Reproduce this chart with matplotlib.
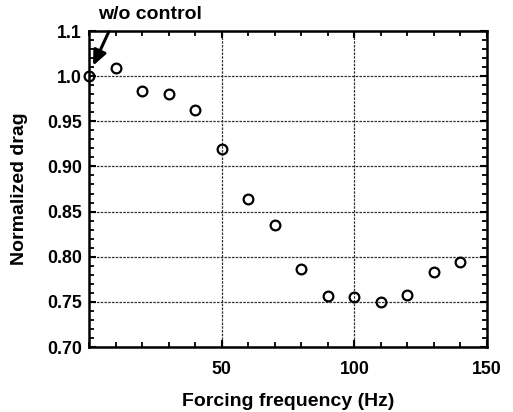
import matplotlib
matplotlib.use("Agg")
import matplotlib.pyplot as plt
from matplotlib.ticker import MultipleLocator

freq = [0, 10, 20, 30, 40, 50, 60, 70, 80, 90, 100, 110, 120, 130, 140]
drag = [1.000, 1.009, 0.984, 0.980, 0.963, 0.919, 0.864, 0.835, 0.786, 0.757, 0.755, 0.750, 0.758, 0.783, 0.794]

yticks = [0.70, 0.75, 0.80, 0.85, 0.90, 0.95, 1.00, 1.05]
ytick_labels = ["0.70", "0.75", "0.80", "0.85", "0.90", "0.95", "1.0", "1.1"]
xticks = [50, 100, 150]
xtick_labels = ["50", "100", "150"]

plt.rcParams['font.family'] = ['Liberation Sans', 'DejaVu Sans']
plt.rcParams['font.weight'] = 'bold'

fig = plt.figure(figsize=(5.13, 4.12), dpi=100)
ax = fig.add_axes([89/513, 1-347/412, (487-89)/513, (347-31)/412])

ax.plot(freq, drag, linestyle='none', marker='o', markersize=7,
        markerfacecolor='none', markeredgecolor='black', markeredgewidth=1.6, clip_on=False, zorder=3)

ax.set_xlim(0, 150)
ax.set_ylim(0.70, 1.05)
ax.set_xticks(xticks)
ax.set_xticklabels(xtick_labels)
ax.set_yticks(yticks)
ax.set_yticklabels(ytick_labels)
ax.xaxis.set_minor_locator(MultipleLocator(10))
ax.yaxis.set_minor_locator(MultipleLocator(0.01))

ax.tick_params(which='both', direction='in', top=True, right=True, labelsize=12.8, colors='black')
ax.tick_params(axis='x', which='major', pad=10)
ax.tick_params(axis='y', which='major', pad=5)
ax.tick_params(which='major', length=5, width=1.5)
ax.tick_params(which='minor', length=3.5, width=1.3)
for lab in ax.get_xticklabels() + ax.get_yticklabels():
    lab.set_fontweight('bold')

ax.grid(True, which='major', linestyle=(0, (2, 1)), color='#333333', linewidth=0.9)
for s in ax.spines.values():
    s.set_linewidth(1.8)

fig.text(288/513, 1-402/412, "Forcing frequency (Hz)", ha='center', va='center',
         fontsize=14, fontweight='bold')
fig.text(20/513, 1-189/412, "Normalized drag", ha='center', va='center', rotation=90,
         fontsize=14, fontweight='bold')

ax.annotate('', xy=(1.1, 1.0088), xytext=(7.9, 1.052),
            arrowprops=dict(arrowstyle='-|>,head_length=0.9,head_width=0.4', lw=2.2, color='black'),
            annotation_clip=False)
ax.text(23, 1.068, "w/o control", ha='center', va='center', fontsize=14, fontweight='bold', clip_on=False)

fig.savefig("out.png", dpi=100)
